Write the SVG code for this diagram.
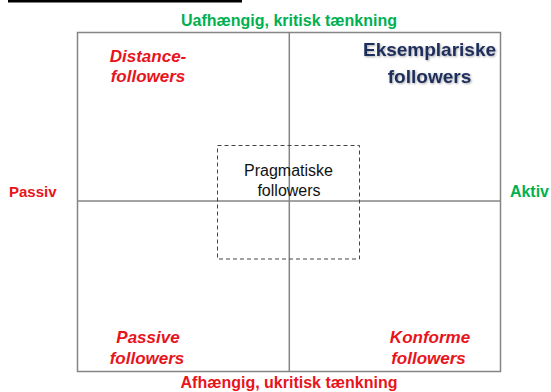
<svg xmlns="http://www.w3.org/2000/svg" width="551" height="392" viewBox="0 0 551 392">
<defs>
<style>
.t{font-family:"Liberation Sans",Arial,sans-serif;font-weight:bold}
.g{fill:#00b050}
.r{fill:#e8141c}
.ri{fill:#e8141c;font-style:italic}
.n{fill:#1f2d5c}
.p{font-family:"Liberation Sans",Arial,sans-serif;fill:#111}
.ln{stroke:#858585;stroke-width:1.5;fill:none}
.ds{stroke:#444;stroke-width:1;stroke-dasharray:4 3;fill:none}
</style>
<filter id="sh" x="-10%" y="-20%" width="130%" height="150%">
<feDropShadow dx="1" dy="1" stdDeviation="0.8" flood-color="#000" flood-opacity="0.35"/>
</filter>
</defs>
<rect width="551" height="392" fill="#fff"/>
<rect x="8" y="0" width="234" height="2.5" fill="#000"/>
<g id="connectors">
<rect class="ln" x="77.5" y="32.5" width="423" height="339"/>
<line class="ln" x1="289.3" y1="32.5" x2="289.3" y2="371.5"/>
<line class="ln" x1="77.5" y1="201" x2="500.5" y2="201"/>
</g>
<g id="pragmatiske">
<rect class="ds" x="217.5" y="145.5" width="142" height="113.5"/>
<text class="p" x="288.5" y="176" font-size="16" text-anchor="middle">Pragmatiske</text>
<text class="p" x="289" y="196" font-size="16" text-anchor="middle">followers</text>
</g>
<g id="top-label"><text class="t g" x="289" y="26" font-size="16" text-anchor="middle">Uafhængig, kritisk tænkning</text></g>
<g id="bottom-label"><text class="t r" x="289" y="388" font-size="16" text-anchor="middle">Afhængig, ukritisk tænkning</text></g>
<g id="passiv"><text class="t r" x="9" y="197" font-size="15">Passiv</text></g>
<g id="aktiv"><text class="t g" x="549" y="197" font-size="16" text-anchor="end">Aktiv</text></g>
<g id="distance">
<text class="t ri" x="148" y="62" font-size="17" text-anchor="middle">Distance-</text>
<text class="t ri" x="148" y="82" font-size="17" text-anchor="middle">followers</text>
</g>
<g id="eksemplariske" filter="url(#sh)">
<text class="t n" x="429.5" y="56" font-size="19" text-anchor="middle">Eksemplariske</text>
<text class="t n" x="429.5" y="83" font-size="19" text-anchor="middle">followers</text>
</g>
<g id="passive">
<text class="t ri" x="148" y="343" font-size="17" text-anchor="middle">Passive</text>
<text class="t ri" x="147" y="364" font-size="17" text-anchor="middle">followers</text>
</g>
<g id="konforme">
<text class="t ri" x="430" y="343" font-size="17" text-anchor="middle">Konforme</text>
<text class="t ri" x="428.5" y="364" font-size="17" text-anchor="middle">followers</text>
</g>
</svg>
